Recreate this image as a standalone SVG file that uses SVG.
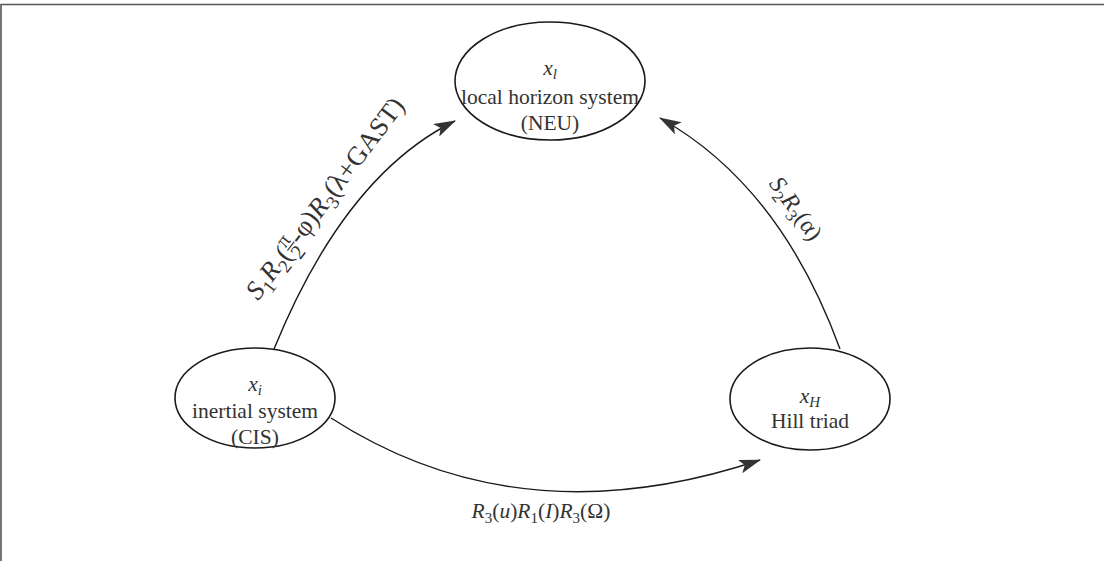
<svg xmlns="http://www.w3.org/2000/svg" width="1104" height="561" viewBox="0 0 1104 561">
<defs>
<style>
.node ellipse{fill:#fff;stroke:#1a1a1a;stroke-width:1.6}
.t{font-family:"Liberation Serif","Times New Roman",serif;font-size:21.5px;fill:#333}
.i{font-style:italic}
.edge{fill:none;stroke:#1a1a1a;stroke-width:1.4}
.frame{fill:none;stroke:#555;stroke-width:1.6}
</style>
<marker id="ah" viewBox="0 0 22 14" refX="21" refY="7" markerWidth="22" markerHeight="14" markerUnits="userSpaceOnUse" orient="auto">
<path d="M0,0 L22,7 L0,14 L5,7 z" fill="#333"/>
</marker>
</defs>
<path class="frame" d="M1,561 V4.5 H1104"/>
<g id="connectors">
<path class="edge" d="M274,349 Q345,175 455,121" marker-end="url(#ah)"/>
<path class="edge" d="M840,349 Q780,185 660,118" marker-end="url(#ah)"/>
<path class="edge" d="M331,418 Q520,540 760,460" marker-end="url(#ah)"/>
<g id="label-left" transform="translate(326,199) rotate(-53) scale(1.25)">
<text class="t" x="0" y="6" text-anchor="middle"><tspan class="i">S</tspan><tspan font-size="15" dy="5">1</tspan><tspan class="i" dy="-5">R</tspan><tspan font-size="15" dy="5">2</tspan><tspan dy="-5">(</tspan><tspan font-size="16.5" dx="0.5" dy="-8">π</tspan><tspan font-size="16.5" dx="-8.6" dy="15">2</tspan><tspan dx="1" dy="-7">-φ)</tspan><tspan class="i">R</tspan><tspan font-size="15" dy="5">3</tspan><tspan dy="-5">(λ+GAST)</tspan></text>
<line x1="-51.5" y1="0.2" x2="-42.5" y2="0.2" stroke="#333" stroke-width="0.9"/>
</g>
<g id="label-right" transform="translate(795,209) rotate(54) scale(1.12)">
<text class="t" x="0" y="6" text-anchor="middle"><tspan class="i">S</tspan><tspan font-size="15" dy="5">2</tspan><tspan class="i" dy="-5">R</tspan><tspan font-size="15" dy="5">3</tspan><tspan dy="-5">(α)</tspan></text>
</g>
<text id="label-bottom" class="t" x="541" y="518" text-anchor="middle"><tspan class="i">R</tspan><tspan font-size="15" dy="5">3</tspan><tspan dy="-5">(</tspan><tspan class="i">u</tspan><tspan>)</tspan><tspan class="i">R</tspan><tspan font-size="15" dy="5">1</tspan><tspan dy="-5">(</tspan><tspan class="i">I</tspan><tspan>)</tspan><tspan class="i">R</tspan><tspan font-size="15" dy="5">3</tspan><tspan dy="-5">(Ω)</tspan></text>
</g>
<g id="node-local" class="node">
<ellipse cx="550" cy="81" rx="95" ry="59"/>
<text class="t" x="550" y="75" text-anchor="middle"><tspan class="i">x</tspan><tspan class="i" font-size="15" dy="4">l</tspan></text>
<text class="t" x="550" y="104" text-anchor="middle">local horizon system</text>
<text class="t" x="550" y="130" text-anchor="middle">(NEU)</text>
</g>
<g id="node-inertial" class="node">
<ellipse cx="255" cy="398" rx="80" ry="50"/>
<text class="t" x="255" y="391" text-anchor="middle"><tspan class="i">x</tspan><tspan class="i" font-size="15" dy="4">i</tspan></text>
<text class="t" x="255" y="418" text-anchor="middle">inertial system</text>
<text class="t" x="255" y="444" text-anchor="middle">(CIS)</text>
</g>
<g id="node-hill" class="node">
<ellipse cx="810" cy="399" rx="80" ry="51"/>
<text class="t" x="810" y="403" text-anchor="middle"><tspan class="i">x</tspan><tspan class="i" font-size="15" dy="4">H</tspan></text>
<text class="t" x="810" y="428" text-anchor="middle">Hill triad</text>
</g>
</svg>
